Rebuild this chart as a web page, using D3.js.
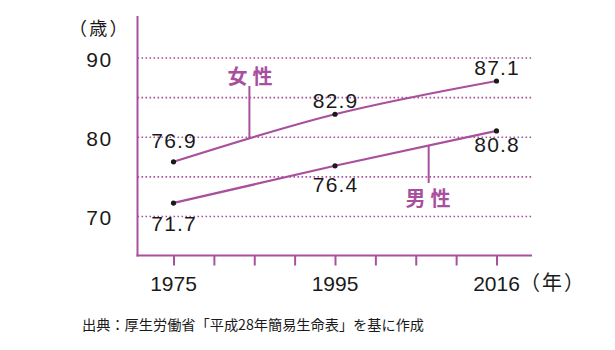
<!DOCTYPE html>
<html lang="ja">
<head>
<meta charset="utf-8">
<script src="https://cdn.jsdelivr.net/npm/d3@7"></script>
<style>
  html, body { margin: 0; padding: 0; background: #fff; }
  svg { display: block; }
  .num { font-family: "Liberation Sans", Arial, sans-serif; fill: #1a1a1a; }
  .jp { font-family: "Noto Sans CJK JP", sans-serif; }
</style>
</head>
<body>
<svg id="chart" width="615" height="350"></svg>
<script>
// Average life expectancy in Japan (years), by sex
const years = [1975, 1995, 2016];
const female = [76.9, 82.9, 87.1];
const male = [71.7, 76.4, 80.8];
const tickYears = [1975, 1980, 1985, 1990, 1995, 2000, 2005, 2010, 2016];
const xLabels = ["1975", "1995", "2016"];
const yTicks = [70, 80, 90];
const gridValues = [70, 75, 80, 85, 90];
const seriesNames = ["女性", "男性"];

// vertical nudges of the value labels away from the line (px)
const labelNudge = [[-14, -6, -6], [28, 26, 21]];

const accent = "#a8509e";
const ink = "#1a1a1a";
const svg = d3.select("#chart");

const x = d3.scalePoint()
  .domain(tickYears)
  .range([173.5, 496.5]);

const y = d3.scaleLinear()
  .domain([70, 90])
  .range([216.5, 58]);

const plotLeft = 137.5, plotRight = 532, plotBottom = 255.5, plotTop = 16;

// dotted grid
svg.append("g")
  .selectAll("line")
  .data(gridValues)
  .join("line")
  .attr("x1", plotLeft).attr("x2", plotRight)
  .attr("y1", d => y(d)).attr("y2", d => y(d))
  .attr("stroke", accent)
  .attr("stroke-width", 1.6)
  .attr("stroke-dasharray", "1.6 2.4");

// y axis line
svg.append("line")
  .attr("x1", plotLeft).attr("x2", plotLeft)
  .attr("y1", plotTop).attr("y2", plotBottom + 1)
  .attr("stroke", accent).attr("stroke-width", 2);

// x axis with ticks pointing down
const xAxis = d3.axisBottom(x).tickSize(10).tickFormat("");
const gx = svg.append("g")
  .attr("transform", `translate(0,${plotBottom})`)
  .call(xAxis);
gx.select(".domain").remove();
gx.selectAll(".tick line").attr("stroke", accent).attr("stroke-width", 2);
svg.append("line")
  .attr("x1", plotLeft - 1).attr("x2", plotRight)
  .attr("y1", plotBottom).attr("y2", plotBottom)
  .attr("stroke", accent).attr("stroke-width", 2);

// year labels
svg.append("g")
  .selectAll("text")
  .data(xLabels)
  .join("text")
  .attr("class", "num")
  .attr("x", d => x(+d))
  .attr("y", 291)
  .attr("text-anchor", "middle")
  .attr("font-size", 21)
  .text(d => d);

svg.append("text")
  .attr("class", "jp")
  .attr("x", 520)
  .attr("y", 290)
  .attr("font-size", 20)
  .attr("letter-spacing", 2)
  .attr("fill", ink)
  .text("（年）");

// y labels
svg.append("g")
  .selectAll("text")
  .data(yTicks)
  .join("text")
  .attr("class", "num")
  .attr("x", 99.5)
  .attr("y", d => y(d) + 8.5)
  .attr("text-anchor", "middle")
  .attr("font-size", 21)
  .attr("letter-spacing", 1.5)
  .text(d => d);

svg.append("text")
  .attr("class", "jp")
  .attr("x", 69)
  .attr("y", 34.5)
  .attr("font-size", 18)
  .attr("letter-spacing", 2.2)
  .attr("fill", ink)
  .text("（歳）");

// series lines
const line = d3.line()
  .x((d, i) => x(years[i]))
  .y(d => y(d))
  .curve(d3.curveMonotoneX);

[female, male].forEach((vals, k) => {
  svg.append("path")
    .datum(vals)
    .attr("d", line)
    .attr("fill", "none")
    .attr("stroke", accent)
    .attr("stroke-width", 2.2);

  svg.append("g")
    .selectAll("circle")
    .data(vals)
    .join("circle")
    .attr("cx", (d, i) => x(years[i]))
    .attr("cy", d => y(d))
    .attr("r", 2.6)
    .attr("fill", ink);

  svg.append("g")
    .selectAll("text")
    .data(vals)
    .join("text")
    .attr("class", "num")
    .attr("x", (d, i) => x(years[i]) + 0.6)
    .attr("y", (d, i) => y(d) + labelNudge[k][i])
    .attr("text-anchor", "middle")
    .attr("font-size", 21)
    .attr("letter-spacing", 1.2)
    .text(d => d.toFixed(1));
});

// series name call-outs with leader lines
const callouts = [
  { name: seriesNames[0], xv: 1984.4, vals: female, tx: 252.5, ty: 84, ly: 86 },
  { name: seriesNames[1], xv: 2006.6, vals: male, tx: 430.5, ty: 206, ly: 183 }
];
// horizontal position of a fractional year between neighbouring ticks
function xAt(yr) {
  for (let i = 0; i < tickYears.length - 1; i++) {
    const a = tickYears[i], b = tickYears[i + 1];
    if (yr >= a && yr <= b) return x(a) + (x(b) - x(a)) * (yr - a) / (b - a);
  }
  return x(yr);
}
callouts.forEach(c => {
  const px = xAt(c.xv);
  // height of the drawn curve at px
  const path = svg.append("path").datum(c.vals).attr("d", line).attr("fill", "none").attr("stroke", "none");
  const node = path.node();
  let lo = 0, hi = node.getTotalLength();
  for (let i = 0; i < 30; i++) {
    const mid = (lo + hi) / 2;
    if (node.getPointAtLength(mid).x < px) lo = mid; else hi = mid;
  }
  const py = node.getPointAtLength(lo).y;
  path.remove();
  svg.append("line")
    .attr("x1", px).attr("x2", px)
    .attr("y1", c.ly).attr("y2", py)
    .attr("stroke", accent).attr("stroke-width", 2);
  svg.append("text")
    .attr("class", "jp")
    .attr("x", c.tx).attr("y", c.ty)
    .attr("text-anchor", "middle")
    .attr("font-size", 20)
    .attr("font-weight", 700)
    .attr("letter-spacing", 5)
    .attr("fill", accent)
    .text(c.name);
});

// source note
svg.append("text")
  .attr("class", "jp")
  .attr("x", 82)
  .attr("y", 329.5)
  .attr("font-size", 14.2)
  .attr("fill", ink)
  .text("出典：厚生労働省「平成28年簡易生命表」を基に作成");
</script>
</body>
</html>
